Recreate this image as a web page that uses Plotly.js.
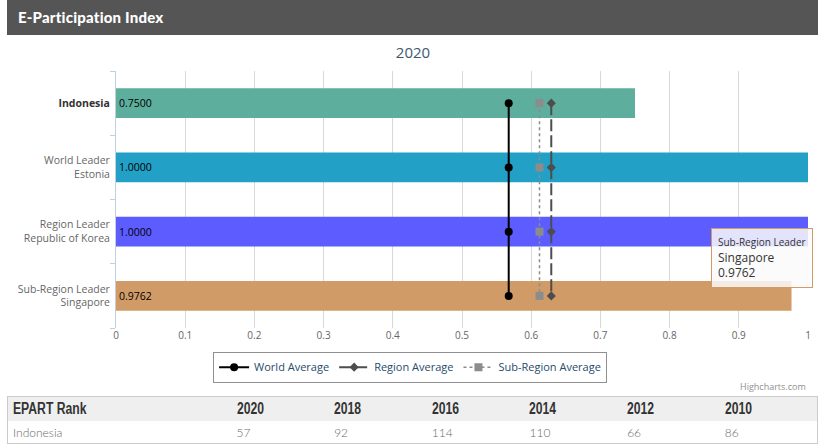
<!DOCTYPE html>
<html>
<head>
<meta charset="utf-8">
<script src="https://cdn.plot.ly/plotly-3.0.1.min.js"></script>
<style>
  html, body { margin: 0; padding: 0; background: #fff; width: 826px; height: 444px; overflow: hidden; }
  #header { position: absolute; left: 7px; top: 0; width: 811px; height: 35px; background: #555555;
            color: #fff; font-family: "Lato", "Noto Sans", sans-serif; font-weight: 900; font-size: 15px;
            line-height: 35px; box-sizing: border-box; padding-left: 11px; letter-spacing: 0.2px; }
  #chart { position: absolute; left: 0; top: 35px; width: 826px; height: 360px; }
  #rank { position: absolute; left: 7px; top: 396px; width: 811px; border-collapse: collapse; table-layout: fixed;
          border: 1px solid #cccccc; }
  #rank th { background: #efefef; height: 24px; padding: 0 0 0 5px; text-align: left; white-space: nowrap;
             font-family: "Liberation Sans", sans-serif;
             font-weight: bold; font-size: 16px; color: #333; }
  #rank th span { display: inline-block; transform: scaleX(0.76); transform-origin: left center; }
  #rank td { height: 22px; padding: 0 0 0 5px; text-align: left; font-family: "Lato", "Noto Sans", sans-serif;
             font-weight: 300; font-size: 12px; color: #6a6a6a; }
</style>
</head>
<body>
<div id="header">E-Participation Index</div>
<div id="chart"></div>
<table id="rank"></table>
<script>
// ---- data ----
var chartYear = "2020";
var categories = ["Indonesia", "World Leader<br>Estonia", "Region Leader<br>Republic of Korea", "Sub-Region Leader<br>Singapore"];
var categoryLabels = ["<b><span style='color:#333'>Indonesia</span></b>", "World Leader<br>Estonia", "Region Leader<br>Republic of Korea", "Sub-Region Leader<br>Singapore"];
var barValues = [0.7500, 1.0000, 1.0000, 0.9762];
var barColors = ["#5eae9e", "#23a0c6", "#5c5cff", "#d19b68"];
var worldAverage = [0.5675, 0.5675, 0.5675, 0.5675];
var regionAverage = [0.629, 0.629, 0.629, 0.629];
var subRegionAverage = [0.612, 0.612, 0.612, 0.612];
var tooltipRole = "Sub-Region Leader";
var tooltipName = "Singapore";
var tooltipValue = barValues[3];

var rankLabel = "EPART Rank";
var rankCountry = "Indonesia";
var rankYears = ["2020", "2018", "2016", "2014", "2012", "2010"];
var rankValues = [57, 92, 114, 110, 66, 86];

// ---- table ----
(function () {
  var t = document.getElementById('rank');
  var html = '<colgroup><col style="width:224px">';
  for (var i = 0; i < rankYears.length; i++) html += '<col>';
  html += '</colgroup><tr><th><span>' + rankLabel + '</span></th>';
  rankYears.forEach(function (y) { html += '<th><span>' + y + '</span></th>'; });
  html += '</tr><tr><td>' + rankCountry + '</td>';
  rankValues.forEach(function (v) { html += '<td>' + v + '</td>'; });
  html += '</tr>';
  t.innerHTML = html;
})();

// ---- chart ----
var fontFam = '"Open Sans", "DejaVu Sans", sans-serif';
var traces = [
  {
    type: 'bar', orientation: 'h', x: barValues, y: categories,
    marker: { color: barColors, line: { width: 0 } },
    text: barValues.map(function (v) { return v.toFixed(4); }),
    textposition: 'inside', insidetextanchor: 'start', constraintext: 'none',
    textfont: { color: '#000', size: 10.5, family: fontFam },
    showlegend: false, hoverinfo: 'skip'
  },
  {
    type: 'scatter', mode: 'lines+markers', name: 'World Average', x: worldAverage, y: categories,
    line: { color: '#000000', width: 2 }, marker: { symbol: 'circle', size: 8, color: '#000000' }
  },
  {
    type: 'scatter', mode: 'lines+markers', name: 'Region Average', x: regionAverage, y: categories,
    line: { color: '#4d4d4d', width: 2, dash: '12px,4px' }, marker: { symbol: 'diamond', size: 7, color: '#4d4d4d' }
  },
  {
    type: 'scatter', mode: 'lines+markers', name: 'Sub-Region Average', x: subRegionAverage, y: categories,
    line: { color: '#8c8c8c', width: 1.5, dash: 'dot' }, marker: { symbol: 'square', size: 8, color: '#8c8c8c' }
  }
];

var layout = {
  width: 826, height: 360,
  margin: { l: 116, r: 18, t: 36, b: 64, pad: 0 },
  paper_bgcolor: '#ffffff', plot_bgcolor: '#ffffff',
  font: { family: fontFam, size: 10, color: '#666666' },
  title: { text: chartYear, x: 0.5, xanchor: 'center', y: 1 - 18 / 360, yanchor: 'middle',
           font: { size: 15, color: '#3e576f', family: fontFam } },
  bargap: 0.54,
  xaxis: {
    range: [0, 1], dtick: 0.1, tick0: 0, showgrid: true, gridcolor: '#d8d8d8', gridwidth: 1,
    zeroline: false, showline: false, ticks: '', tickfont: { size: 10, color: '#666666' }, fixedrange: true
  },
  yaxis: {
    type: 'category', autorange: 'reversed', showgrid: false, zeroline: false,
    showline: true, linecolor: '#c0d0e0', linewidth: 1,
    ticks: 'outside', tickson: 'boundaries', ticklen: 5, tickcolor: '#c0d0e0',
    tickvals: categories, ticktext: categoryLabels, ticklabelstandoff: 3,
    tickfont: { size: 10.5, color: '#666666' }, fixedrange: true
  },
  legend: {
    orientation: 'h', x: 0.425, xanchor: 'center', y: -0.092, yanchor: 'top',
    bordercolor: '#909090', borderwidth: 1, bgcolor: '#ffffff',
    font: { size: 11, color: '#274b6d', family: fontFam }, itemwidth: 30, tracegroupgap: 0
  },
  annotations: [
    {
      xref: 'paper', yref: 'paper', x: 1, y: -0.227, xanchor: 'right', yanchor: 'middle',
      text: 'Highcharts.com', showarrow: false, font: { size: 9, color: '#909090', family: fontFam }
    },
    {
      xref: 'paper', yref: 'paper', x: 0.86, y: 0.3885, xanchor: 'left', yanchor: 'top', align: 'left',
      text: '<span style="font-size:10px">' + tooltipRole + '</span><br>' + tooltipName + '<br>' + tooltipValue.toFixed(4),
      showarrow: false, bgcolor: 'rgba(250,250,250,0.85)', bordercolor: '#d19b68', borderwidth: 1, borderpad: 6,
      font: { size: 12, color: '#333333', family: fontFam }
    }
  ],
  hovermode: false
};

Plotly.newPlot('chart', traces, layout, { displayModeBar: false, staticPlot: true });
</script>
</body>
</html>
